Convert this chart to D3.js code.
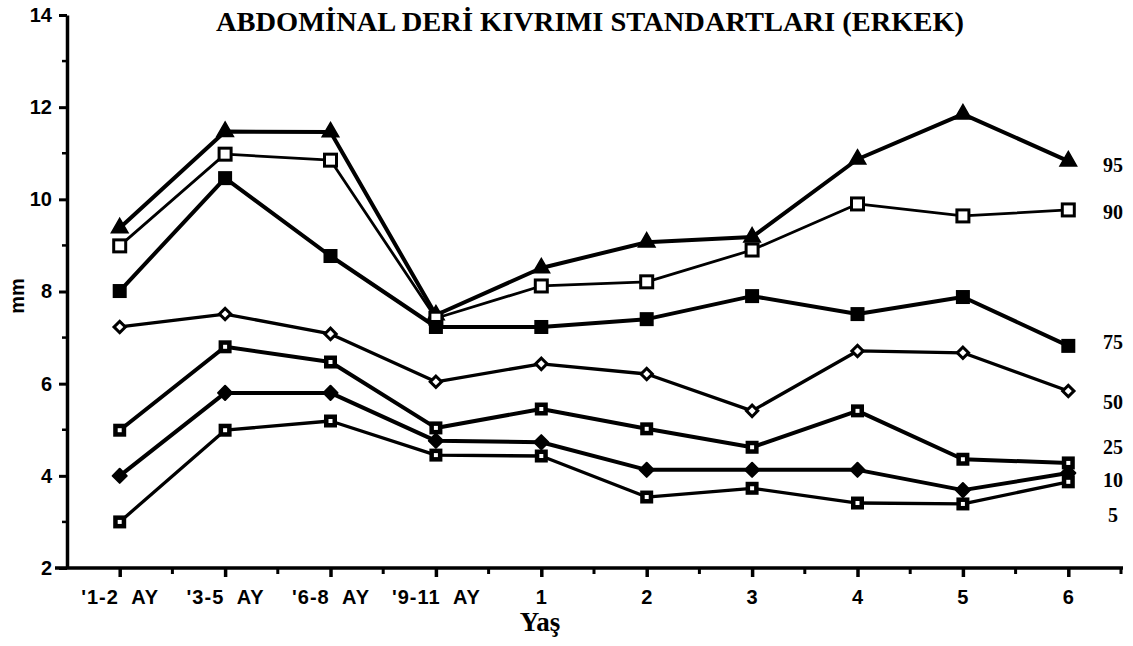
<!DOCTYPE html>
<html>
<head>
<meta charset="utf-8">
<script src="https://cdn.jsdelivr.net/npm/d3@7"></script>
<style>
  body { margin: 0; background: #fff; }
  svg { display: block; }
  .tick text { font-family: "Liberation Sans", Arial, sans-serif; font-weight: bold; fill: #000; }
</style>
</head>
<body>
<svg id="chart"></svg>
<script>
// Data
const categories = ["'1-2  AY", "'3-5  AY", "'6-8  AY", "'9-11  AY", "1", "2", "3", "4", "5", "6"];
const p95 = [9.38, 11.47, 11.46, 7.49, 8.51, 9.07, 9.18, 10.87, 11.85, 10.83];
const p90 = [8.99, 10.98, 10.85, 7.42, 8.12, 8.21, 8.90, 9.90, 9.64, 9.77];
const p75 = [8.01, 10.46, 8.77, 7.23, 7.23, 7.40, 7.90, 7.51, 7.88, 6.82];
const p50 = [7.23, 7.51, 7.08, 6.04, 6.43, 6.21, 5.41, 6.71, 6.67, 5.84];
const p25 = [4.99, 6.80, 6.47, 5.04, 5.45, 5.02, 4.62, 5.41, 4.36, 4.28];
const p10 = [4.00, 5.80, 5.80, 4.76, 4.73, 4.13, 4.13, 4.13, 3.69, 4.06];
const p5 = [3.00, 4.99, 5.19, 4.45, 4.43, 3.54, 3.73, 3.41, 3.39, 3.87];
const percentiles = ["95", "90", "75", "50", "25", "10", "5"];
const yTicks = [2, 4, 6, 8, 10, 12, 14];

const seriesValues = [p95, p90, p75, p50, p25, p10, p5];

// Styling per series (marker type, line width, label offset in mm)
const styles = [
  { marker: 'tri',     width: 4,   labelAt: 10.75 },
  { marker: 'open',    width: 2.8, labelAt: 9.72 },
  { marker: 'filled',  width: 4,   labelAt: 6.9 },
  { marker: 'diamond', width: 3.3, labelAt: 5.6 },
  { marker: 'dotsq',   width: 4,   labelAt: 4.62 },
  { marker: 'dot',     width: 4,   labelAt: 3.9 },
  { marker: 'dotsq',   width: 3.3, labelAt: 3.15 }
];

const W = 1133, H = 646;
const x0 = 67, x1 = 1121, yTop = 15, yBottom = 568;

const svg = d3.select('#chart').attr('width', W).attr('height', H);

const xScale = d3.scaleLinear().domain([-0.5, 9.5]).range([x0, x1]);
const yScale = d3.scaleLinear().domain([2, 14]).range([yBottom, yTop]);

// Title
svg.append('text')
  .attr('x', 590).attr('y', 31)
  .attr('text-anchor', 'middle')
  .attr('textLength', 748)
  .attr('lengthAdjust', 'spacingAndGlyphs')
  .style('font-family', '"Liberation Serif", "Times New Roman", serif')
  .style('font-weight', 'bold')
  .style('font-size', '28px')
  .text('ABDOMİNAL DERİ KIVRIMI STANDARTLARI (ERKEK)');

// Y axis
const yAxis = d3.axisLeft(yScale).tickValues(yTicks).tickSize(8).tickPadding(7).tickSizeOuter(0);
const gy = svg.append('g').attr('transform', `translate(${x0},0)`).call(yAxis);
gy.select('.domain').attr('stroke', '#000').attr('stroke-width', 3.5);
gy.selectAll('.tick line').attr('stroke', '#000').attr('stroke-width', 3);
gy.selectAll('.tick text').style('font-size', '20px');
gy.selectAll('.minor')
  .data(d3.range(3, 14, 2))
  .enter().append('line')
  .attr('x1', -5).attr('x2', 0)
  .attr('y1', d => yScale(d)).attr('y2', d => yScale(d))
  .attr('stroke', '#000').attr('stroke-width', 2.5);

// X axis
const xAxis = d3.axisBottom(xScale)
  .tickValues(d3.range(categories.length))
  .tickFormat(i => categories[i])
  .tickSize(9).tickPadding(13).tickSizeOuter(0);
const gx = svg.append('g').attr('transform', `translate(0,${yBottom})`).call(xAxis);
gx.select('.domain').attr('stroke', '#000').attr('stroke-width', 3.5).attr('d', `M${x0 - 12},0H${x1 + 2}`);
gx.selectAll('.tick line').attr('stroke', '#000').attr('stroke-width', 3.5);
gx.selectAll('.tick text').style('font-size', '20px').style('white-space', 'pre').style('letter-spacing', '1px');
gx.selectAll('.minor')
  .data(d3.range(0.5, 10, 1))
  .enter().append('line')
  .attr('x1', d => xScale(d)).attr('x2', d => xScale(d))
  .attr('y1', 0).attr('y2', 6)
  .attr('stroke', '#000').attr('stroke-width', 3);

// Axis titles
svg.append('text')
  .attr('x', 540).attr('y', 631)
  .attr('text-anchor', 'middle')
  .style('font-family', '"Liberation Serif", "Times New Roman", serif')
  .style('font-weight', 'bold')
  .style('font-size', '27px')
  .text('Yaş');

svg.append('text')
  .attr('transform', 'translate(24,296) rotate(-90)')
  .attr('text-anchor', 'middle')
  .style('font-family', '"Liberation Sans", Arial, sans-serif')
  .style('font-weight', 'bold')
  .style('font-size', '20px')
  .text('mm');

// Lines
const line = d3.line()
  .x((d, i) => xScale(i))
  .y(d => yScale(d));

seriesValues.forEach((vals, s) => {
  svg.append('path')
    .datum(vals)
    .attr('fill', 'none')
    .attr('stroke', '#000')
    .attr('stroke-width', styles[s].width)
    .attr('stroke-linejoin', 'round')
    .attr('d', line);
});

// Markers
function drawMarker(g, type) {
  if (type === 'tri') {
    g.append('path').attr('d', d3.symbol(d3.symbolTriangle, 120)()).attr('fill', '#000')
      .attr('stroke', '#000').attr('stroke-width', 1.5);
  } else if (type === 'open') {
    g.append('rect').attr('x', -6).attr('y', -6).attr('width', 12).attr('height', 12)
      .attr('fill', '#fff').attr('stroke', '#000').attr('stroke-width', 3);
  } else if (type === 'filled') {
    g.append('rect').attr('x', -7).attr('y', -7).attr('width', 14).attr('height', 14).attr('fill', '#000');
  } else if (type === 'diamond') {
    g.append('rect').attr('x', -4).attr('y', -4).attr('width', 8).attr('height', 8)
      .attr('transform', 'rotate(45)')
      .attr('fill', '#fff').attr('stroke', '#000').attr('stroke-width', 3);
  } else if (type === 'dotsq') {
    g.append('rect').attr('x', -6.5).attr('y', -6.5).attr('width', 13).attr('height', 13).attr('fill', '#000');
    g.append('rect').attr('x', -2).attr('y', -2).attr('width', 4).attr('height', 4).attr('fill', '#fff');
  } else if (type === 'dot') {
    g.append('rect').attr('x', -5).attr('y', -5).attr('width', 10).attr('height', 10)
      .attr('transform', 'rotate(45)')
      .attr('fill', '#000').attr('stroke', '#000').attr('stroke-width', 2).attr('stroke-linejoin', 'round');
  }
}

seriesValues.forEach((vals, s) => {
  svg.append('g').selectAll('g')
    .data(vals)
    .enter().append('g')
    .attr('transform', (d, i) => `translate(${xScale(i)},${yScale(d)})`)
    .each(function () { drawMarker(d3.select(this), styles[s].marker); });
});

// Percentile labels on the right
svg.append('g').selectAll('text')
  .data(percentiles)
  .enter().append('text')
  .attr('x', 1113)
  .attr('y', (d, i) => yScale(styles[i].labelAt))
  .attr('dy', '0.35em')
  .attr('text-anchor', 'middle')
  .style('font-family', '"Liberation Serif", "Times New Roman", serif')
  .style('font-weight', 'bold')
  .style('font-size', '20px')
  .text(d => d);
</script>
</body>
</html>
